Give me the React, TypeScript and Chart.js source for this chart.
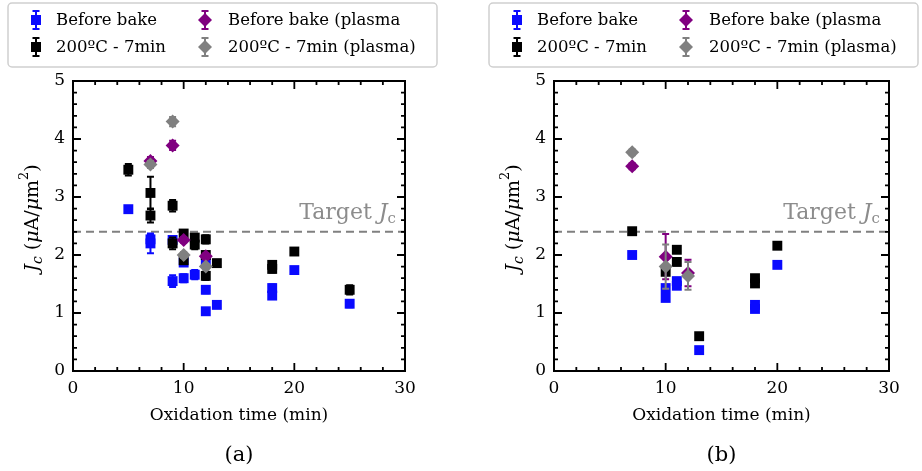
import React, { useEffect, useRef } from "react";
import { Chart, registerables } from "chart.js";

Chart.register(...registerables);

const SERIF = '"DejaVu Serif", "Liberation Serif", serif';

// Series names, colours and marker shapes (shared by both panels)
const seriesLabels = ["Before bake", "200ºC - 7min", "Before bake (plasma", "200ºC - 7min (plasma)"];
const seriesColors = ["#0a0aff", "#000000", "#800080", "#808080"];
const seriesShapes = ["rect", "rect", "rectRot", "rectRot"];

const xTickLabels = [0, 10, 20, 30];
const yTickLabels = [0, 1, 2, 3, 4, 5];
const TARGET_JC = 2.4;

// ---- Panel (a) ----
const aBeforeX = [5, 7, 7, 9, 9, 10, 10, 11, 12, 12, 12, 13, 18, 18, 20, 25];
const aBeforeY = [2.79, 2.27, 2.2, 2.26, 1.55, 1.87, 1.6, 1.66, 1.88, 1.4, 1.03, 1.14, 1.43, 1.3, 1.74, 1.16];
const aBeforeErr = [0.04, 0.08, 0.17, 0.06, 0.1, 0.05, 0.07, 0.08, 0.06, 0.06, 0.04, 0.04, 0.06, 0.06, 0.04, 0.06];

const aBakedX = [5, 7, 7, 9, 9, 10, 10, 11, 11, 12, 12, 12, 13, 18, 18, 20, 25];
const aBakedY = [3.47, 3.07, 2.68, 2.85, 2.2, 2.37, 1.91, 2.3, 2.18, 2.27, 2.0, 1.64, 1.86, 1.83, 1.76, 2.06, 1.4];
const aBakedErr = [0.1, 0.28, 0.12, 0.1, 0.1, 0.05, 0.06, 0.06, 0.08, 0.07, 0.05, 0.07, 0.05, 0.06, 0.06, 0.04, 0.08];

const aPlasmaBeforeX = [7, 9, 10, 12];
const aPlasmaBeforeY = [3.62, 3.89, 2.26, 1.98];
const aPlasmaBeforeErr = [0.07, 0.08, 0.05, 0.05];

const aPlasmaBakedX = [7, 9, 10, 12];
const aPlasmaBakedY = [3.56, 4.3, 2.0, 1.8];
const aPlasmaBakedErr = [0.06, 0.08, 0.05, 0.05];

// ---- Panel (b) ----
const bBeforeX = [7, 10, 10, 11, 11, 13, 18, 18, 20];
const bBeforeY = [2.0, 1.43, 1.26, 1.55, 1.47, 0.36, 1.14, 1.07, 1.83];
const bBeforeErr = [0.04, 0.05, 0.04, 0.05, 0.05, 0.03, 0.04, 0.04, 0.04];

const bBakedX = [7, 10, 11, 11, 13, 18, 18, 20];
const bBakedY = [2.41, 1.71, 2.09, 1.88, 0.6, 1.6, 1.51, 2.16];
const bBakedErr = [0.05, 0.05, 0.05, 0.05, 0.04, 0.05, 0.05, 0.05];

const bPlasmaBeforeX = [7, 10, 12];
const bPlasmaBeforeY = [3.53, 1.97, 1.69];
const bPlasmaBeforeErr = [0.05, 0.39, 0.23];

const bPlasmaBakedX = [7, 10, 12];
const bPlasmaBakedY = [3.77, 1.8, 1.64];
const bPlasmaBakedErr = [0.05, 0.38, 0.24];

type Pt = { x: number; y: number; err: number };

function zipPoints(xs: number[], ys: number[], es: number[]): Pt[] {
  return xs.map((x, i) => ({ x, y: ys[i], err: es[i] }));
}

type Seg = { t: string; italic?: boolean; size: number; dy?: number };

function drawRich(ctx: CanvasRenderingContext2D, segs: Seg[], x: number, y: number, align: "center" | "right" | "left") {
  let total = 0;
  const widths = segs.map((s) => {
    ctx.font = `${s.italic ? "italic " : ""}${s.size}px ${SERIF}`;
    const w = ctx.measureText(s.t).width;
    total += w;
    return w;
  });
  let cx = align === "center" ? x - total / 2 : align === "right" ? x - total : x;
  ctx.textAlign = "left";
  segs.forEach((s, i) => {
    ctx.font = `${s.italic ? "italic " : ""}${s.size}px ${SERIF}`;
    ctx.fillText(s.t, cx, y + (s.dy || 0));
    cx += widths[i];
  });
}

function drawErrorGlyph(ctx: CanvasRenderingContext2D, x: number, top: number, bottom: number, color: string) {
  ctx.save();
  ctx.strokeStyle = color;
  ctx.lineWidth = 2;
  ctx.beginPath();
  ctx.moveTo(x, top);
  ctx.lineTo(x, bottom);
  ctx.moveTo(x - 3.5, top);
  ctx.lineTo(x + 3.5, top);
  ctx.moveTo(x - 3.5, bottom);
  ctx.lineTo(x + 3.5, bottom);
  ctx.stroke();
  ctx.restore();
}

function drawMarker(ctx: CanvasRenderingContext2D, shape: string, x: number, y: number, color: string) {
  ctx.save();
  ctx.fillStyle = color;
  ctx.beginPath();
  if (shape === "rect") {
    ctx.rect(x - 5, y - 5, 10, 10);
  } else {
    ctx.moveTo(x, y - 7);
    ctx.lineTo(x + 7, y);
    ctx.lineTo(x, y + 7);
    ctx.lineTo(x - 7, y);
    ctx.closePath();
  }
  ctx.fill();
  ctx.restore();
}

type PanelProps = {
  caption: string;
  series: Pt[][];
  plotLeft: number;
  plotRight: number;
  legendLeft: number;
};

function Panel({ caption, series, plotLeft, plotRight, legendLeft }: PanelProps) {
  const ref = useRef<HTMLCanvasElement | null>(null);

  useEffect(() => {
    const canvas = ref.current;
    if (!canvas) return;

    const decor = {
      id: "decor",
      beforeDatasetsDraw(chart: any) {
        const { ctx, chartArea } = chart;
        const ys = chart.scales.y;
        const yy = ys.getPixelForValue(TARGET_JC);
        ctx.save();
        ctx.strokeStyle = "#808080";
        ctx.lineWidth = 2;
        ctx.setLineDash([8, 5]);
        ctx.beginPath();
        ctx.moveTo(chartArea.left, yy);
        ctx.lineTo(chartArea.right, yy);
        ctx.stroke();
        ctx.restore();
      },
      beforeDatasetDraw(chart: any, args: any) {
        const { ctx } = chart;
        const xs = chart.scales.x;
        const ys = chart.scales.y;
        const ds = chart.data.datasets[args.index];
        (ds.data as Pt[]).forEach((p) => {
          const px = xs.getPixelForValue(p.x);
          drawErrorGlyph(ctx, px, ys.getPixelForValue(p.y + p.err), ys.getPixelForValue(p.y - p.err), ds.backgroundColor);
        });
      },
      afterDraw(chart: any) {
        const { ctx, chartArea } = chart;
        const xs = chart.scales.x;
        const ys = chart.scales.y;
        const { left, right, top, bottom } = chartArea;
        ctx.save();

        // inward ticks on all four sides
        ctx.strokeStyle = "#000";
        ctx.lineWidth = 1.8;
        ctx.beginPath();
        for (let v = 0; v <= 30; v += 2) {
          const px = xs.getPixelForValue(v);
          const len = v % 10 === 0 ? 8 : 4;
          ctx.moveTo(px, bottom);
          ctx.lineTo(px, bottom - len);
          ctx.moveTo(px, top);
          ctx.lineTo(px, top + len);
        }
        for (let k = 0; k <= 25; k++) {
          const py = ys.getPixelForValue(k * 0.2);
          const len = k % 5 === 0 ? 8 : 4;
          ctx.moveTo(left, py);
          ctx.lineTo(left + len, py);
          ctx.moveTo(right, py);
          ctx.lineTo(right - len, py);
        }
        ctx.stroke();

        // frame
        ctx.lineWidth = 2;
        ctx.strokeRect(left, top, right - left, bottom - top);

        // target label
        ctx.fillStyle = "#8c8c8c";
        ctx.textBaseline = "alphabetic";
        const ty = ys.getPixelForValue(TARGET_JC) - 13;
        drawRich(
          ctx,
          [
            { t: "Target ", size: 22 },
            { t: "J", italic: true, size: 22 },
            { t: "c", size: 15, dy: 4 },
          ],
          right - 9,
          ty,
          "right"
        );

        // axis titles
        ctx.fillStyle = "#000";
        ctx.textBaseline = "middle";
        ctx.textAlign = "center";
        ctx.font = `17px ${SERIF}`;
        ctx.fillText("Oxidation time (min)", (left + right) / 2, 416);
        ctx.font = `21px ${SERIF}`;
        ctx.fillText(caption, (left + right) / 2, 456);

        ctx.save();
        ctx.translate(left - 40, (top + bottom) / 2 - 8);
        ctx.rotate(-Math.PI / 2);
        ctx.textBaseline = "middle";
        drawRich(
          ctx,
          [
            { t: "J", italic: true, size: 19 },
            { t: "c", italic: true, size: 14, dy: 5 },
            { t: " (", size: 19 },
            { t: "μ", italic: true, size: 19 },
            { t: "A/", size: 19 },
            { t: "μ", italic: true, size: 19 },
            { t: "m", size: 19 },
            { t: "2", size: 13, dy: -8 },
            { t: ")", size: 19 },
          ],
          0,
          0,
          "center"
        );
        ctx.restore();

        // legend box
        const bx = legendLeft;
        const bw = 429;
        const by = 3;
        const bh = 64;
        ctx.fillStyle = "rgba(255,255,255,0.85)";
        ctx.strokeStyle = "#cfcfcf";
        ctx.lineWidth = 1.5;
        ctx.beginPath();
        ctx.roundRect(bx, by, bw, bh, 4);
        ctx.fill();
        ctx.stroke();

        const cols = [bx + 28, bx + 197];
        const textOffsets = [20, 23];
        const rows = [20, 47];
        chart.data.datasets.forEach((ds: any, i: number) => {
          const col = Math.floor(i / 2);
          const mx = cols[col];
          const my = rows[i % 2];
          drawErrorGlyph(ctx, mx, my - 9, my + 9, ds.backgroundColor);
          drawMarker(ctx, seriesShapes[i], mx, my, ds.backgroundColor);
          ctx.fillStyle = "#000";
          ctx.font = `16.5px ${SERIF}`;
          ctx.textAlign = "left";
          ctx.textBaseline = "middle";
          ctx.fillText(ds.label, mx + textOffsets[col], my + 1);
        });

        ctx.restore();
      },
    };

    const datasets = series.map((pts, i) => ({
      label: seriesLabels[i],
      data: pts,
      backgroundColor: seriesColors[i],
      borderColor: seriesColors[i],
      borderWidth: 0,
      pointStyle: seriesShapes[i],
      pointRadius: 7,
      pointHoverRadius: 7,
      order: 4 - i,
    }));

    const chart = new Chart(canvas, {
      type: "scatter",
      data: { datasets },
      options: {
        responsive: false,
        animation: false,
        devicePixelRatio: 1,
        layout: { padding: { left: 0, right: 461 - plotRight, top: 81, bottom: 0 } },
        plugins: { legend: { display: false }, tooltip: { enabled: false } },
        scales: {
          x: {
            type: "linear",
            min: 0,
            max: 30,
            afterBuildTicks: (s: any) => {
              s.ticks = xTickLabels.map((v) => ({ value: v }));
            },
            ticks: { font: { family: SERIF, size: 17 }, color: "#000", padding: 7, maxRotation: 0 },
            grid: { display: false, drawTicks: false },
            border: { display: false },
            afterFit: (s: any) => {
              s.height = 100;
            },
          },
          y: {
            type: "linear",
            min: 0,
            max: 5,
            afterBuildTicks: (s: any) => {
              s.ticks = yTickLabels.map((v) => ({ value: v }));
            },
            ticks: { font: { family: SERIF, size: 17 }, color: "#000", padding: 8 },
            grid: { display: false, drawTicks: false },
            border: { display: false },
            afterFit: (s: any) => {
              s.width = plotLeft;
            },
          },
        },
      },
      plugins: [decor],
    } as any);

    return () => chart.destroy();
  }, [caption, series, plotLeft, plotRight, legendLeft]);

  return <canvas ref={ref} width={461} height={471} style={{ display: "block", width: 461, height: 471 }} />;
}

const panelASeries = [
  zipPoints(aBeforeX, aBeforeY, aBeforeErr),
  zipPoints(aBakedX, aBakedY, aBakedErr),
  zipPoints(aPlasmaBeforeX, aPlasmaBeforeY, aPlasmaBeforeErr),
  zipPoints(aPlasmaBakedX, aPlasmaBakedY, aPlasmaBakedErr),
];

const panelBSeries = [
  zipPoints(bBeforeX, bBeforeY, bBeforeErr),
  zipPoints(bBakedX, bBakedY, bBakedErr),
  zipPoints(bPlasmaBeforeX, bPlasmaBeforeY, bPlasmaBeforeErr),
  zipPoints(bPlasmaBakedX, bPlasmaBakedY, bPlasmaBakedErr),
];

export default function App() {
  return (
    <div style={{ position: "fixed", left: 0, top: 0, width: 922, height: 471, background: "#fff", display: "flex" }}>
      <Panel caption="(a)" series={panelASeries} plotLeft={73} plotRight={405} legendLeft={8} />
      <Panel caption="(b)" series={panelBSeries} plotLeft={93} plotRight={428} legendLeft={28} />
    </div>
  );
}
